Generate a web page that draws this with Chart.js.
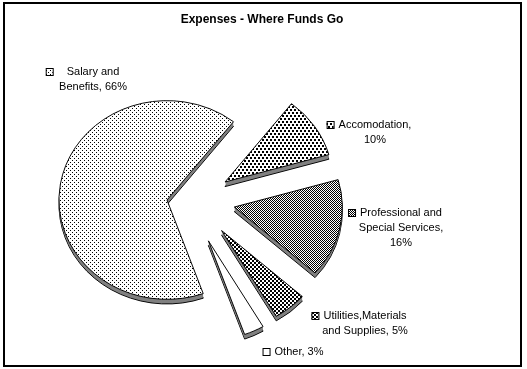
<!DOCTYPE html>
<html>
<head>
<meta charset="utf-8">
<script src="https://cdn.jsdelivr.net/npm/chart.js@4/dist/chart.umd.min.js"></script>
<style>
  body { margin: 0; background: #fff; }
  canvas { display: block; }
</style>
</head>
<body>
<canvas id="myChart" width="527" height="369"></canvas>
<script>
// data, in the order the slices go clockwise from the top
let title = 'Expenses - Where Funds Go'
let categories = ['Accomodation', 'Professional and Special Services', 'Utilities,Materials and Supplies', 'Other', 'Salary and Benefits']
let percents = [10, 16, 5, 3, 66]

// look of each slice
let explode = [70, 69, 86, 98, 0]
let tilt = 0.5
let squash = 0.92
let depth = 5
let labelPos = [[375, 125], [401, 213], [365, 316], [299, 352], [93, 72]]
let font = '"Liberation Sans", Arial, sans-serif'

let ctx = document.getElementById('myChart').getContext('2d')

// small bitmap fills like the old office patterns
// (stretched back by 1/squash so they stay crisp once the pie is flattened)
function makePattern(w, h, blocks) {
    let c = document.createElement('canvas')
    c.width = w
    c.height = h
    let g = c.getContext('2d')
    g.fillStyle = '#fff'
    g.fillRect(0, 0, w, h)
    g.fillStyle = '#000'
    blocks.forEach(b => g.fillRect(b[0], b[1], b[2], b[3]))
    let pat = ctx.createPattern(c, 'repeat')
    pat.setTransform(new DOMMatrix().scale(1, 1 / squash))
    return pat
}

let fills = [
    makePattern(4, 6, [[0, 0, 2, 2], [2, 3, 2, 2]]),   // accomodation
    makePattern(2, 2, [[0, 0, 1, 1], [1, 1, 1, 1]]),   // professional
    makePattern(4, 4, [[0, 0, 2, 2], [2, 2, 2, 2]]),   // utilities
    '#ffffff',                                         // other
    makePattern(4, 4, [[0, 0, 1, 1], [2, 2, 1, 1]])    // salary
]

// pull the slices out from the middle
let explodePlugin = {
    id: 'explode',
    afterDatasetsUpdate(chart) {
        let arcs = chart.getDatasetMeta(0).data
        arcs.forEach((arc, i) => {
            let mid = (arc.startAngle + arc.endAngle) / 2
            arc.x += Math.cos(mid) * explode[i]
            arc.y += Math.sin(mid) * explode[i] * tilt
        })
    }
}

// flatten the pie a little and put grey sides under each slice so it looks 3d
let sidePlugin = {
    id: 'sides',
    beforeDatasetsDraw(chart) {
        let c = chart.ctx
        let area = chart.chartArea
        let cy = (area.top + area.bottom) / 2
        c.save()
        c.imageSmoothingEnabled = false
        c.translate(0, cy)
        c.scale(1, squash)
        c.translate(0, -cy)
        let arcs = chart.getDatasetMeta(0).data
        arcs.forEach(arc => {
            let p = arc.getProps(['x', 'y', 'startAngle', 'endAngle', 'outerRadius'])
            for (let s = depth; s >= 1; s--) {
                c.beginPath()
                c.moveTo(p.x, p.y + s)
                c.arc(p.x, p.y + s, p.outerRadius, p.startAngle, p.endAngle)
                c.closePath()
                c.fillStyle = '#808080'
                c.fill()
                if (s === depth) {
                    c.strokeStyle = '#000'
                    c.lineWidth = 1
                    c.stroke()
                }
            }
        })
    },
    afterDatasetsDraw(chart) {
        chart.ctx.restore()
    }
}

function wrap(c, text, maxW) {
    let words = text.split(' ')
    let lines = []
    let line = ''
    words.forEach(w => {
        let test = line ? line + ' ' + w : w
        if (line && c.measureText(test).width > maxW) {
            lines.push(line)
            line = w
        } else {
            line = test
        }
    })
    lines.push(line)
    return lines
}

// title, frame and the data labels with their little keys
let labelPlugin = {
    id: 'labels',
    beforeDraw(chart) {
        let c = chart.ctx
        c.save()
        c.fillStyle = '#fff'
        c.fillRect(0, 0, chart.width, chart.height)
        c.strokeStyle = '#000'
        c.lineWidth = 2
        c.strokeRect(4, 3, 517, 363)
        c.restore()
    },
    afterDatasetsDraw(chart) {
        let c = chart.ctx
        c.save()
        c.fillStyle = '#000'
        c.font = 'bold 12px ' + font
        c.textAlign = 'center'
        c.textBaseline = 'middle'
        c.fillText(title, 262, 20)

        c.font = '11px ' + font
        categories.forEach((cat, i) => {
            let lines = wrap(c, cat + ', ' + percents[i] + '%', 90)
            let cx = labelPos[i][0]
            let y = labelPos[i][1]
            lines.forEach((ln, k) => {
                c.fillStyle = '#000'
                c.fillText(ln, cx, y + k * 15)
            })
            let left = cx - c.measureText(lines[0]).width / 2
            let gap = i === 4 ? 21 : 12
            let key = i === 3 ? '#ffffff' : fills[i]
            if (key.setTransform) key.setTransform(new DOMMatrix())
            c.fillStyle = key
            c.fillRect(left - gap, y - 4, 7, 7)
            c.strokeStyle = '#000'
            c.lineWidth = 1
            c.strokeRect(left - gap + 0.5, y - 3.5, 7, 7)
            if (key.setTransform) key.setTransform(new DOMMatrix().scale(1, 1 / squash))
        })
        c.restore()
    }
}

let chart = new Chart(ctx, {
    type: 'pie',
    data: {
        labels: categories,
        datasets: [{
            data: percents,
            backgroundColor: fills,
            borderColor: '#000',
            borderWidth: 1
        }]
    },
    options: {
        responsive: false,
        animation: false,
        events: [],
        rotation: 38,
        radius: 108,
        layout: { padding: { left: 7, right: 200, top: 40, bottom: 9 } },
        plugins: {
            legend: { display: false },
            title: { display: false },
            tooltip: { enabled: false }
        }
    },
    plugins: [explodePlugin, sidePlugin, labelPlugin]
})
</script>
</body>
</html>
